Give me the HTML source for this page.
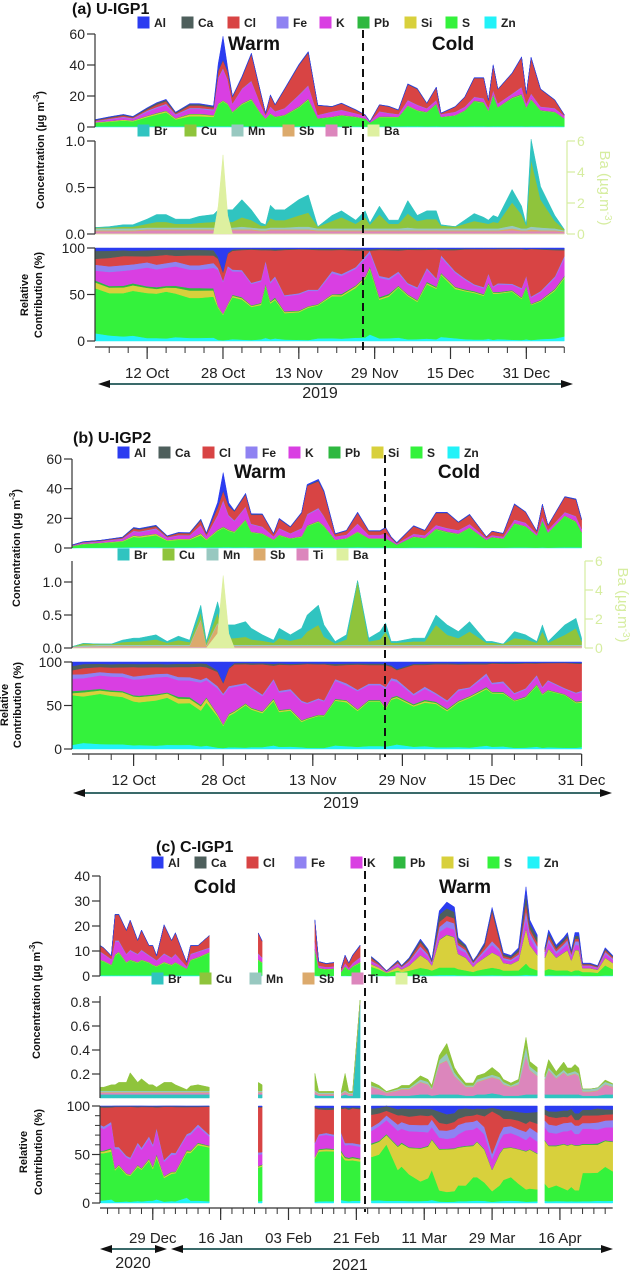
<!DOCTYPE html>
<html><head><meta charset="utf-8"><style>
html,body{margin:0;padding:0;background:#fff;}
svg{display:block;font-family:"Liberation Sans",sans-serif;}
.tl{font-size:14px;fill:#222;}
.lg{font-size:12px;font-weight:bold;fill:#222;}
.ttl{font-size:16px;font-weight:bold;fill:#111;}
.season{font-size:19px;font-weight:bold;fill:#111;}
.yt{font-size:11px;font-weight:bold;fill:#111;}
</style></head><body>
<svg id="chart" width="633" height="1271" viewBox="0 0 633 1271" xmlns="http://www.w3.org/2000/svg">
<rect width="633" height="1271" fill="#fff"/>
<text class="ttl" x="72" y="14">(a) U-IGP1</text>
<text class="ttl" x="73" y="443">(b) U-IGP2</text>
<text class="ttl" x="156" y="852">(c) C-IGP1</text>
<text class="season" x="254" y="50" text-anchor="middle">Warm</text>
<text class="season" x="453" y="50" text-anchor="middle">Cold</text>
<text class="season" x="260" y="478" text-anchor="middle">Warm</text>
<text class="season" x="459" y="478" text-anchor="middle">Cold</text>
<text class="season" x="215" y="893" text-anchor="middle">Cold</text>
<text class="season" x="465" y="893" text-anchor="middle">Warm</text>
<text class="yt" transform="translate(44,150) rotate(-90)" text-anchor="middle">Concentration (µg m<tspan dy="-5" font-size="8">-3</tspan><tspan dy="5">)</tspan></text>
<text class="yt" transform="translate(28,295) rotate(-90)" text-anchor="middle">Relative</text>
<text class="yt" transform="translate(42,295) rotate(-90)" text-anchor="middle">Contribution (%)</text>
<text class="yt" transform="translate(20,548) rotate(-90)" text-anchor="middle">Concentration (µg m<tspan dy="-5" font-size="8">-3</tspan><tspan dy="5">)</tspan></text>
<text class="yt" transform="translate(8,705) rotate(-90)" text-anchor="middle">Relative</text>
<text class="yt" transform="translate(21,705) rotate(-90)" text-anchor="middle">Contribution (%)</text>
<text class="yt" transform="translate(40,1000) rotate(-90)" text-anchor="middle">Concentration (µg m<tspan dy="-5" font-size="8">-3</tspan><tspan dy="5">)</tspan></text>
<text class="yt" transform="translate(27,1152) rotate(-90)" text-anchor="middle">Relative</text>
<text class="yt" transform="translate(42,1152) rotate(-90)" text-anchor="middle">Contribution (%)</text>
<text transform="translate(600,188) rotate(90)" text-anchor="middle" font-size="15" fill="#d6eda0">Ba (µg.m<tspan dy="-5" font-size="10">-3</tspan><tspan dy="5">)</tspan></text>
<text transform="translate(618,605) rotate(90)" text-anchor="middle" font-size="15" fill="#d6eda0">Ba (µg.m<tspan dy="-5" font-size="10">-3</tspan><tspan dy="5">)</tspan></text>
<text x="320" y="398" text-anchor="middle" font-size="16" fill="#222">2019</text>
<text x="341" y="808" text-anchor="middle" font-size="16" fill="#222">2019</text>
<text x="133" y="1268" text-anchor="middle" font-size="16" fill="#222">2020</text>
<text x="350" y="1270" text-anchor="middle" font-size="16" fill="#222">2021</text>
<g id="marks"></g>
</svg>
<script>
// ---------- Panel (a) U-IGP1 : day 0 = 1 Oct 2019 ----------
const aDays=[0,3,6,8,11,13,15,17,20,22,25,26,27,28,29,31,33,35,36,37,38,40,43,45,47,50,52,55,57,58,60,62,64,66,68,70,72,73,76,78,80,82,83,84,85,88,90,91,92,94,97,99];
const aZn=[.4,.4,.4,.4,.4,.5,.5,.4,.5,.5,.5,.5,.5,.5,.4,.5,.5,.4,.3,.4,.4,.4,.5,.5,.4,.4,.4,.4,.3,.25,.4,.4,.4,.5,.5,.4,.5,.4,.4,.4,.5,.5,.4,.5,.5,.5,.5,.4,.5,.5,.5,.4];
const aS=[2.3,3,3.8,3.3,6,7.5,9,4.5,6.5,6.5,6,14,16,14,9,14,17,8,5,8,6,7,12,17,5,6,7,6,5,2.5,6,6,6,13,10,9,14,6,7,10,16,15,10,20,12,18,20,12,17,10,9,5];
const aSi=[.3,.4,.5,.4,.7,.8,.8,.6,1.2,1.2,.9,.5,.5,.5,.3,.5,.5,.3,.1,.3,.2,.3,.4,.5,.1,.2,.2,.2,.1,.05,.2,.2,.1,.3,.3,.2,.3,.1,.2,.2,.3,.3,.2,.4,.2,.3,.4,.2,.3,.2,.2,.1];
const aPb=[.1,.1,.15,.15,.2,.3,.3,.2,.4,.4,.3,.2,.2,.2,.2,.3,.3,.2,.1,.2,.2,.2,.3,.3,.1,.1,.2,.1,.1,.05,.2,.2,.1,.2,.2,.2,.3,.1,.1,.2,.3,.3,.2,.3,.2,.3,.4,.2,.3,.2,.2,.1];
const aK=[.5,1,1.3,1,2.5,3,3.5,2,3,3,3,16,20,15,5,9,11,5,2,4,3,4,7,8,2,3,3,2,1.5,.5,3,2,1.5,3,3,2,2,1.5,2,2,2,2,1.5,2,2,2,4,2,3,2,2,1.5];
const aFe=[.3,.4,.5,.4,.7,.8,.9,.5,.7,.7,.7,.8,.8,.6,.4,.5,.6,.3,.2,.4,.3,.3,.5,.6,.2,.3,.3,.2,.2,.1,.3,.3,.2,.4,.4,.3,.3,.2,.2,.3,.4,.4,.2,.5,.3,.4,.5,.3,.5,.3,.3,.2];
const aCl=[.3,.6,.8,.6,.8,1.5,1.6,.6,1.6,1.6,1.1,4,5,5,4,7,17,7,1,7,4,12,19,21,6,3,4,2,.5,0,4,4,2.5,10,10,3,8,.5,3,6,12,13,4.5,16,9,13,19,6,23,11,5,.5];
const aCa=[.4,.5,.5,.4,.8,1,1,.6,.9,.9,.8,.8,.5,.4,.3,.4,.4,.3,.1,.3,.2,.3,.3,.4,.2,.2,.2,.2,.1,.05,.2,.2,.2,.3,.3,.2,.2,.1,.2,.2,.2,.2,.1,.2,.2,.2,.2,.2,.2,.2,.2,.1];
const aAl=[.15,.2,.2,.2,.3,.3,.3,.2,.3,.3,.3,4,15,2,.3,.3,.4,.2,.1,.2,.2,.2,.3,.4,.1,.1,.1,.1,.1,.05,.1,.1,.1,.2,.2,.1,.2,.1,.1,.1,.2,.2,.1,.3,.1,.2,.3,.2,.3,.2,.2,.1];
const aTi=[.03,.03,.03,.03,.04,.04,.04,.04,.04,.04,.04,.04,.04,.04,.04,.04,.04,.03,.03,.04,.04,.04,.04,.04,.03,.03,.03,.03,.03,.03,.03,.03,.03,.03,.03,.03,.03,.03,.03,.03,.03,.03,.03,.03,.03,.04,.03,.03,.03,.03,.03,.02];
const aSb=[.01,.01,.01,.01,.01,.01,.01,.01,.01,.01,.01,.01,.01,.01,.01,.01,.01,.01,.01,.01,.01,.01,.01,.01,.01,.01,.01,.01,.01,.01,.01,.01,.01,.01,.01,.01,.01,.01,.01,.01,.01,.01,.01,.01,.01,.02,.01,.01,.02,.01,.01,.01];
const aMn=[.02,.02,.02,.02,.02,.02,.02,.02,.02,.02,.02,.02,.02,.02,.02,.03,.02,.02,.02,.02,.02,.02,.03,.03,.02,.02,.02,.02,.02,.02,.02,.02,.02,.03,.02,.02,.02,.02,.02,.02,.02,.02,.02,.02,.02,.03,.02,.02,.03,.03,.02,.01];
const aCu=[.01,.01,.02,.02,.04,.06,.06,.04,.04,.05,.06,.06,.06,.06,.06,.1,.08,.03,.03,.1,.08,.08,.12,.15,.02,.08,.12,.05,.12,.04,.15,.05,.05,.15,.08,.1,.1,.03,.02,.05,.08,.06,.05,.07,.06,.25,.15,.03,.72,.3,.08,.01];
const aBr=[0,.01,.02,.02,.05,.08,.08,.05,.05,.07,.08,.13,.13,.13,.13,.19,.11,.03,.01,.14,.11,.11,.17,.19,0,.06,.07,.04,.07,.02,.09,.04,.04,.14,.06,.09,.09,.01,0,.04,.08,.06,.04,.07,.06,.14,.09,.01,.22,.14,.06,0];
const aBa=[0,0,0,0,0,0,0,0,0,0,0,1.8,5.1,1.2,0,0,0,0,0,0,0,0,0,0,0,0,0,0,0,0,0,0,0,0,0,0,0,0,0,0,0,0,0,0,0,0,0,0,0,0,0,0];
const aTickDays=[11,27,43,59,75,91];
const aTickLabels=["12 Oct","28 Oct","13 Nov","29 Nov","15 Dec","31 Dec"];

// ---------- Panel (b) U-IGP2 : day 0 = 1 Oct 2019 ----------
const bDays=[0,2,5,7,9,11,12,15,17,19,21,23,24,26,27,28,29,31,32,34,36,37,39,41,42,44,45,47,49,51,53,55,56,57,58,61,63,65,67,69,71,74,75,77,79,81,83,84,85,88,90,91];
const bZn=[.1,.3,.3,.35,.4,.6,.6,.6,.4,.5,.5,.6,.4,.5,.6,.6,.5,.6,.5,.5,.4,.5,.4,.5,.6,.6,.5,.4,.4,.6,.4,.4,.4,.3,.2,.4,.4,.5,.5,.4,.4,.3,.3,.3,.4,.4,.3,.4,.3,.5,.5,.4];
const bS=[1.2,2.3,3,3.5,4,7,6.5,8,4.5,5,5,8,5,11,13,11,10,18,10,9,5,8,6,7,14,17,14,5,6,10,6,6,6,4,2,7,6,12,10,9,13,5,7,6,16,14,8,18,10,21,17,10];
const bSi=[.05,.2,.2,.3,.4,.8,.8,.9,.4,.6,.5,1,.5,.6,.5,.5,.4,.5,.3,.3,.2,.3,.2,.3,.4,.4,.3,.1,.2,.3,.1,.1,.2,.1,.05,.2,.2,.3,.3,.2,.3,.1,.1,.1,.2,.2,.1,.2,.1,.2,.3,.2];
const bPb=[.05,.1,.1,.1,.1,.2,.2,.2,.1,.2,.2,.3,.1,.3,.3,.3,.2,.3,.2,.2,.1,.2,.1,.2,.3,.3,.3,.1,.1,.2,.1,.1,.1,.1,.05,.2,.2,.3,.3,.2,.2,.1,.1,.1,.2,.2,.1,.2,.1,.2,.3,.2];
const bK=[.3,.6,.8,1,1.2,2.5,2.5,3,1.5,2,2,5,2,9,17,9,7,8,5,4,2,4,3,5,7,8,6,2,2,5,2,2,3,1.5,.6,1.5,1.5,2,2,2,2,1,1,1,2,2,1,2,1.5,2,3,2];
const bFe=[.1,.2,.2,.25,.3,.5,.5,.6,.3,.4,.4,.6,.3,.8,1,.7,.5,.6,.4,.4,.2,.4,.3,.4,.6,.7,.5,.2,.3,.4,.2,.2,.3,.2,.1,.3,.3,.4,.4,.3,.3,.2,.2,.2,.4,.3,.2,.4,.2,.4,.4,.3];
const bCl=[.1,.3,.3,.4,.5,1.5,1.3,1.2,.6,1.2,1.2,3,1.2,5,6,6,6,8,6,8,1.5,6,4,10,19,18,16,1.5,2.5,7,2.5,2.5,3.5,1,.4,5,3,8,10,5,6,.8,2.5,2,10,7,1.5,8,3,10,11,6];
const bCa=[.1,.2,.2,.25,.3,.5,.5,.6,.3,.4,.4,.7,.4,.5,.5,.4,.4,.5,.4,.3,.2,.3,.2,.3,.4,.5,.4,.2,.2,.3,.2,.2,.2,.1,.05,.2,.2,.3,.3,.2,.3,.1,.1,.1,.3,.2,.1,.2,.1,.2,.3,.2];
const bAl=[.1,.1,.1,.15,.15,.3,.3,.3,.2,.2,.2,.3,.2,3,12,2,.3,.4,.3,.3,.2,.3,.3,.4,.6,.8,.6,.2,.2,.4,.2,.2,.3,.3,.3,.3,.2,.3,.3,.3,.3,.1,.1,.1,.3,.2,.1,.2,.1,.2,.3,.2];
const bTi=[.02,.02,.02,.02,.02,.02,.02,.02,.02,.02,.02,.02,.02,.02,.02,.02,.02,.02,.02,.02,.02,.02,.02,.02,.02,.02,.02,.02,.02,.02,.02,.02,.02,.02,.02,.02,.02,.02,.02,.02,.02,.02,.02,.02,.02,.02,.02,.02,.02,.02,.02,.02];
const bSb=[0,0,.01,.01,.01,.01,.01,.01,.01,.01,.01,.4,.01,.35,.01,.01,.01,.01,.01,.01,.01,.01,.01,.01,.01,.01,.01,.01,.01,.01,.01,.01,.01,.01,.01,.01,.01,.01,.01,.01,.01,.01,.01,.01,.01,.01,.01,.01,.01,.01,.01,.01];
const bMn=[0,.02,.02,.02,.02,.02,.02,.02,.02,.02,.02,.02,.02,.02,.02,.02,.02,.02,.02,.02,.02,.02,.02,.02,.02,.02,.02,.02,.02,.02,.02,.02,.02,.02,.02,.02,.02,.02,.02,.02,.02,.02,.02,.02,.02,.02,.02,.02,.02,.02,.02,.02];
const bCu=[0,.03,.01,.01,.04,.05,.05,.08,.03,.07,.04,.1,.03,.15,.1,.1,.1,.12,.08,.06,.03,.1,.06,.1,.2,.3,.12,.02,.08,1.1,.05,.08,.2,.03,.03,.05,.05,.3,.15,.1,.2,.03,.03,.01,.1,.08,.03,.2,.03,.15,.25,.05];
const bBr=[0,0,0,0,.03,.05,.05,.07,.02,.06,.03,.11,.02,.16,.2,.2,.2,.23,.17,.09,.04,.15,.09,.15,.25,.3,.18,.03,.07,.15,.05,.12,.13,.02,.02,.05,.05,.15,.15,.1,.15,.02,.02,0,.1,.07,.02,.1,.02,.15,.15,.05];
const bBa=[0,0,0,0,0,0,0,0,0,0,0,0,0,1,5,1,0,0,0,0,0,0,0,0,0,0,0,0,0,0,0,0,0,0,0,0,0,0,0,0,0,0,0,0,0,0,0,0,0,0,0,0];
const bTickDays=[11,27,43,59,75,91];
const bTickLabels=["12 Oct","28 Oct","13 Nov","29 Nov","15 Dec","31 Dec"];

// ---------- Panel (c) C-IGP1 : day 0 = 15 Dec 2020 ----------
const cDays=[0,1,3,4,5,7,8,10,11,13,14,15,17,19,20,23,24,26,29, 42,43, 57,58,60,62, 64,65,66,67,69, 72,74,76,79,80,82,85,87,88,90,92,94,95,97,99,100,102,104,106,107,109,111,113,114,116, 118,119,121,123,124,125,126,127,128,130,132,134,136];
const cSeg=[1,1,1,1,1,1,1,1,1,1,1,1,1,1,1,1,1,1,1, 2,2, 3,3,3,3, 4,4,4,4,4, 5,5,5,5,5,5,5,5,5,5,5,5,5,5,5,5,5,5,5,5,5,5,5,5,5, 6,6,6,6,6,6,6,6,6,6,6,6,6];
const cZn=[.3,.3,.3,.3,.3,.3,.3,.3,.3,.3,.3,.3,.3,.3,.3,.3,.3,.3,.3, .3,.3, .3,.1,.1,.1, .1,.2,.1,.2,.3, .2,.15,.05,.15,.1,.15,.3,.25,.2,.4,.4,.4,.3,.25,.15,.2,.3,.35,.3,.2,.2,.25,.5,.35,.3, .25,.35,.25,.3,.3,.2,.3,.3,.1,.1,.1,.25,.2];
const cS=[6,5.5,4,8,9,5,6,5,6,5,4,3.5,5,4,5,2.5,6,7,9, 6,5, 10,3,2.6,2.8, 1.5,3.5,2.2,3.5,5, 3.5,2.5,1.2,2,1.5,2,3,2.5,2,3,3,3,2.5,2,1.5,2,2.5,3,2.5,2,2,2,4.5,3,2, 2,2.5,2,2,2,1.5,2,2,1.5,1.5,1.2,4,2.5];
const cSi=[.2,.2,.2,.3,.3,.2,.2,.2,.2,.2,.2,.2,.3,.2,.2,.1,.2,.2,.2, .2,.2, .3,.1,.1,.1, .1,.2,.1,.2,.3, 1,.7,.2,1.5,1,2,5,3.5,2,11,13,12,6,5,2,3,4.5,6,5,3,2.5,4,14,9,6, 5,8,5,7,8,4.5,8,8,1.5,1.5,1.2,3,2.5];
const cPb=[.1,.1,.1,.15,.15,.1,.1,.1,.1,.1,.1,.1,.1,.1,.1,.05,.1,.1,.1, .1,.1, .1,.05,.05,.05, .05,.1,.05,.1,.1, .1,.05,.02,.05,.05,.05,.1,.1,.05,.2,.2,.2,.1,.1,.05,.05,.1,.1,.1,.05,.05,.05,.2,.1,.1, .1,.1,.1,.1,.1,.05,.1,.1,.05,.05,.05,.1,.05];
const cK=[3,2.5,2,5,4,3,3.5,3,3.5,2.5,2.5,2,3,2.5,3,.8,2,2,1.5, 2,1.5, 3,.8,.7,.7, .5,1,.7,1,1.5, 1,.8,.3,1,.6,1.2,2.5,1.5,.8,3,3,3,2,2,1,1.2,2,3,2,1.3,1.2,1.5,4,3,2, 1.5,2.5,1.5,2,2.5,1.5,2,2,.8,.8,.6,1.5,1.2];
const cFe=[.3,.3,.2,.5,.5,.3,.4,.3,.4,.3,.3,.2,.4,.3,.3,.1,.3,.3,.3, .4,.3, .3,.1,.1,.1, .1,.2,.1,.2,.3, .3,.2,.1,.4,.3,.5,1,.8,.5,2,2.5,2.5,1.5,1,.5,.6,1,1.5,1,.7,.6,.8,3,2,1.5, .8,1.5,1,1.3,1.5,.8,1.5,1.5,.3,.3,.3,.8,.6];
const cCl=[2.2,2.2,1.2,10.2,10.2,9.2,11.7,5.2,7.7,3.7,4.7,1.7,11.2,6.7,8.2,1.5,3.2,2.2,4.7, 8,6.5, 8,1.5,1.2,1.4, .8,3,1.8,3,4.5, 1,.5,.1,.6,.3,.6,1.5,1,.3,2,2,2,1,.8,.4,.5,1.5,12,3,.8,.6,1,3,1.5,1.5, .7,1.5,1,1,1,.8,1,1,.4,.4,.3,.7,.5];
const cCa=[.15,.15,.1,.2,.2,.15,.15,.15,.15,.1,.1,.1,.15,.1,.15,.05,.1,.1,.1, .15,.1, .3,.1,.1,.1, .05,.1,.1,.1,.2, .5,.3,.1,.4,.3,.6,1,.8,.4,3,3,2.5,1.5,1,.4,.5,1,1,1,.8,.7,1,4,2,2, .6,1,.8,1,1.2,.6,1.2,1.2,.3,.3,.3,.6,.4];
const cAl=[.02,.02,.02,.03,.03,.02,.02,.02,.02,.02,.02,.02,.02,.02,.02,.01,.02,.02,.02, .1,.1, .2,.1,.1,.1, .05,.1,.1,.1,.2, .2,.1,0,.2,.1,.2,.4,.3,.2,1.5,2.5,2,.5,.3,.2,.2,.4,.5,.5,.4,.4,.7,2.5,1.5,1, .4,1,.7,.7,.8,.3,1.3,1.3,.2,.2,.1,.4,.3];
const cBr=[.03,.03,.03,.03,.03,.03,.03,.03,.03,.03,.03,.03,.03,.03,.03,.03,.03,.03,.03, .03,.03, .03,.02,.02,.02, .02,.03,.02,.02,.78, .03,.03,.02,.02,.02,.02,.03,.03,.02,.03,.03,.03,.03,.02,.02,.03,.03,.04,.03,.02,.02,.02,.03,.03,.03, .03,.03,.03,.03,.03,.03,.03,.03,.02,.02,.02,.03,.03];
const cTi=[.015,.015,.015,.015,.015,.015,.015,.015,.015,.015,.015,.015,.015,.015,.015,.015,.015,.015,.015, .015,.015, .02,.01,.01,.01, .01,.02,.01,.01,.03, .06,.04,.02,.04,.05,.05,.1,.08,.05,.25,.28,.15,.12,.07,.07,.1,.12,.13,.12,.09,.07,.09,.32,.2,.15, .12,.2,.13,.18,.15,.16,.17,.15,.03,.03,.04,.08,.06];
const cSb=[.005,.005,.005,.005,.005,.005,.005,.005,.005,.005,.005,.005,.005,.005,.005,.005,.005,.005,.005, .005,.005, .005,.005,.005,.005, .005,.005,.005,.005,.005, .005,.005,.005,.005,.005,.005,.005,.005,.005,.005,.005,.005,.005,.005,.005,.005,.005,.005,.005,.005,.005,.005,.005,.005,.005, .005,.005,.005,.005,.005,.005,.005,.005,.005,.005,.005,.005,.005];
const cMn=[.01,.01,.01,.01,.01,.01,.01,.01,.01,.01,.01,.01,.01,.01,.01,.01,.01,.01,.01, .01,.01, .01,.01,.01,.01, .01,.01,.01,.01,.01, .01,.01,.005,.01,.01,.01,.02,.02,.01,.03,.06,.03,.02,.01,.01,.02,.02,.02,.02,.02,.01,.02,.08,.03,.03, .02,.02,.02,.02,.02,.02,.02,.02,.02,.02,.02,.02,.02];
const cCu=[.03,.03,.05,.05,.07,.07,.15,.07,.1,.05,.05,.03,.07,.07,.05,.01,.04,.05,.03, .07,.05, .14,.01,.01,.01, .01,.14,.01,.01,.03, .03,.02,.005,.01,.02,.02,.03,.02,.02,.04,.08,.04,.03,.02,.02,.03,.03,.06,.03,.02,.02,.02,.07,.04,.04, .025,.065,.035,.065,.045,.035,.055,.045,0,0,0,.015,.005];
const cTickDays=[14,32,50,68,86,104,122];
const cTickLabels=["29 Dec","16 Jan","03 Feb","21 Feb","11 Mar","29 Mar","16 Apr"];

// ---------- legend / colours ----------
const majorNames=["Al","Ca","Cl","Fe","K","Pb","Si","S","Zn"];
const majorColors={Al:"#2b3cf0",Ca:"#4e5f5c",Cl:"#d84444",Fe:"#8f82f2",K:"#d93fe2",Pb:"#2eb840",Si:"#d8d03c",S:"#34f23c",Zn:"#22f2f8"};
const traceNames=["Br","Cu","Mn","Sb","Ti","Ba"];
const traceColors={Br:"#30c4c0",Cu:"#8fc43c",Mn:"#98c8c0",Sb:"#dcaa6c",Ti:"#dc86bc",Ba:"#def0a0"};

const NS="http://www.w3.org/2000/svg";
const root=document.getElementById("marks");
function mk(tag,parent,o){const e=document.createElementNS(NS,tag);for(const k in o)e.setAttribute(k,o[k]);parent.appendChild(e);return e;}

const panels=[
 {key:"a",x0:95,dx:4.74,x1:566,days:aDays,seg:null,
  top:{y0:127,y1:34,max:60,ticks:[0,20,40,60],lab:["0","20","40","60"]},
  mid:{y0:234,y1:141,max:1.0,axTop:141,ticks:[0,0.5,1.0],lab:["0.0","0.5","1.0"]},
  right:{max:6,ticks:[0,2,4,6],lab:["0","2","4","6"]},
  bot:{y0:341,y1:248,max:100,ticks:[0,50,100],lab:["0","50","100"]},
  axisY:347,labY:378,minorStart:3,minorStep:4,lastDay:99,
  major:[aZn,aS,aSi,aPb,aK,aFe,aCl,aCa,aAl],
  trace:[aTi,aSb,aMn,aCu,aBr],traceKeys:["Ti","Sb","Mn","Cu","Br"],ba:aBa,
  tickDays:aTickDays,tickLabels:aTickLabels,dash:{x:363,y0:30,y1:352},
  leg1:{y:22,xs:[138,182,228,277,320,358,405,446,485]},leg2:{y:130,xs:[138,185,232,283,326,368]},
  arrows:[{x0:98,x1:573,y:384}]},
 {key:"b",x0:72,dx:5.6,x1:584,days:bDays,seg:null,
  top:{y0:548,y1:459,max:60,ticks:[0,20,40,60],lab:["0","20","40","60"]},
  mid:{y0:648,y1:582,max:1.0,axTop:561,ticks:[0,0.5,1.0],lab:["0.0","0.5","1.0"]},
  right:{max:6,ticks:[0,2,4,6],lab:["0","2","4","6"]},
  bot:{y0:749,y1:662,max:100,ticks:[0,50,100],lab:["0","50","100"]},
  axisY:754,labY:785,minorStart:3,minorStep:4,lastDay:91,
  major:[bZn,bS,bSi,bPb,bK,bFe,bCl,bCa,bAl],
  trace:[bTi,bSb,bMn,bCu,bBr],traceKeys:["Ti","Sb","Mn","Cu","Br"],ba:bBa,
  tickDays:bTickDays,tickLabels:bTickLabels,dash:{x:385,y0:455,y1:757},
  leg1:{y:452,xs:[118,159,203,246,289,329,372,411,448]},leg2:{y:554,xs:[118,163,207,254,297,337]},
  arrows:[{x0:73,x1:612,y:793}]},
 {key:"c",x0:100,dx:3.77,x1:613,days:cDays,seg:cSeg,
  top:{y0:976,y1:876,max:40,ticks:[0,10,20,30,40],lab:["0","10","20","30","40"]},
  mid:{y0:1098,y1:1002,max:0.8,axTop:996,ticks:[0.2,0.4,0.6,0.8],lab:["0.2","0.4","0.6","0.8"]},
  right:null,
  bot:{y0:1203,y1:1106,max:100,ticks:[0,50,100],lab:["0","50","100"],minor:10},
  axisY:1208,labY:1243,minorStart:2,minorStep:3,lastDay:136,
  major:[cZn,cS,cSi,cPb,cK,cFe,cCl,cCa,cAl],
  trace:[cBr,cTi,cSb,cMn,cCu],traceKeys:["Br","Ti","Sb","Mn","Cu"],ba:null,
  tickDays:cTickDays,tickLabels:cTickLabels,dash:{x:365,y0:858,y1:1212},
  leg1:{y:862,xs:[152,195,247,295,351,394,442,488,528]},leg2:{y:978,xs:[152,200,250,303,352,396]},
  arrows:[{x0:100,x1:167,y:1249},{x0:171,x1:613,y:1249}]}
];
const majorOrder=["Zn","S","Si","Pb","K","Fe","Cl","Ca","Al"];

function runs(p){const n=p.days.length,out=[];let s=0;for(let i=1;i<=n;i++){if(i===n||(p.seg&&p.seg[i]!==p.seg[i-1])){out.push([s,i-1]);s=i;}}return out;}
function yv(s,v){return s.y0-(v/s.max)*(s.y0-s.y1);}
function xd(p,d){return p.x0+d*p.dx;}
function stack(g,p,layers,colors,scale,name,names){
 const n=p.days.length,cum=new Array(n).fill(0);
 const rr=runs(p);
 layers.forEach((L,li)=>{
  const lo=cum.slice();for(let i=0;i<n;i++)cum[i]+=L[i];
  rr.forEach(([a,b])=>{
   let d="";
   const ea=(a===b)?1.2:0;
   for(let i=a;i<=b;i++){const x=xd(p,p.days[i])+(i===b?ea:0)-(i===a?ea:0);d+=(i===a?"M":"L")+x.toFixed(1)+","+yv(scale,Math.min(cum[i],scale.max*1.02)).toFixed(1);}
   for(let i=b;i>=a;i--){const x=xd(p,p.days[i])+(i===b?ea:0)-(i===a?ea:0);d+="L"+x.toFixed(1)+","+yv(scale,Math.min(lo[i],scale.max*1.02)).toFixed(1);}
   const e=mk("path",g,{d:d+"Z",fill:colors[li],stroke:colors[li],"stroke-width":"0.5"});
   
   
  });
 });
}
function yAxis(g,p,s,top,name,x,side){
 const dir=side==="r"?1:-1;
 const ax=mk("line",g,{x1:x,x2:x,y1:s.y0,y2:top,stroke:side==="r"?"#d6eda0":"#333","stroke-width":"1.2"});
 
 
 if(s.minor){for(let v=0;v<=s.max;v+=s.minor){const t=mk("line",g,{x1:x,x2:x+dir*5,y1:yv(s,v),y2:yv(s,v),stroke:"#333","stroke-width":"1"});
  
  }}
 s.ticks.forEach((v,i)=>{
  const y=yv(s,v);
  const t=mk("line",g,{x1:x,x2:x+dir*8,y1:y,y2:y,stroke:side==="r"?"#d6eda0":"#333","stroke-width":"1.2"});
  
  
  const tx=mk("text",g,{x:x+dir*10,y:y+5,"text-anchor":side==="r"?"start":"end",class:"tl"});
  if(side==="r")tx.setAttribute("fill","#d6eda0"),tx.setAttribute("style","fill:#d6eda0");
  tx.textContent=s.lab[i];
  
  
 });
}
function legend(g,p,cfg,names,colors,nm){
 names.forEach((k,i)=>{
  const r=mk("rect",g,{x:cfg.xs[i],y:cfg.y-5,width:11,height:11,fill:colors[k],stroke:colors[k]});
  
  
  const t=mk("text",g,{x:cfg.xs[i]+16,y:cfg.y+5,class:"lg"});
  t.textContent=k;
  
  
 });
}
function arrowH(g,a,nm){
 const l=mk("line",g,{x1:a.x0+8,x2:a.x1-8,y1:a.y,y2:a.y,stroke:"#3a6a6a","stroke-width":"2"});
 
 
 const h1=mk("path",g,{d:`M${a.x0},${a.y}L${a.x0+12},${a.y-4}L${a.x0+12},${a.y+4}Z`,fill:"#111"});
 
 
 const h2=mk("path",g,{d:`M${a.x1},${a.y}L${a.x1-12},${a.y-4}L${a.x1-12},${a.y+4}Z`,fill:"#111"});
 
 
}

panels.forEach(p=>{
 const g=mk("g",root,{});
 
 
 const nm='panel-'+p.key;
 // absolute stack
 stack(g,p,p.major,majorOrder.map(k=>majorColors[k]),p.top,nm+'-concentration',majorOrder.map(k=>k.toLowerCase()));
 // trace stack
 stack(g,p,p.trace,p.traceKeys.map(k=>traceColors[k]),p.mid,nm+'-trace',p.traceKeys.map(k=>k.toLowerCase()));
 if(p.ba){const rs={y0:p.mid.y0,y1:p.mid.y0-(p.mid.y0-p.mid.y1)*(p.right.max/p.mid.max)/ (p.right.max/p.mid.max) ,max:p.mid.max};
  const bsc={y0:p.mid.y0,y1:p.mid.axTop,max:p.right.max};
  stack(g,p,[p.ba],[traceColors.Ba],bsc,nm+'-barium',["ba"]);}
 // relative stack
 const n=p.days.length,tot=new Array(n).fill(0);
 p.major.forEach(L=>{for(let i=0;i<n;i++)tot[i]+=L[i];});
 const rel=p.major.map(L=>L.map((v,i)=>tot[i]>0?v/tot[i]*100:0));
 stack(g,p,rel,majorOrder.map(k=>majorColors[k]),p.bot,nm+'-relative',majorOrder.map(k=>k.toLowerCase()));
 // axes
 yAxis(g,p,p.top,p.top.y1,nm+'-concentration-y',p.x0,"l");
 yAxis(g,p,p.mid,p.mid.axTop,nm+'-trace-y',p.x0,"l");
 if(p.right){const rs={y0:p.mid.y0,y1:p.mid.axTop,max:p.right.max,ticks:p.right.ticks,lab:p.right.lab};yAxis(g,p,rs,p.mid.axTop,nm+'-ba-y',p.x1+1,"r");}
 yAxis(g,p,p.bot,p.bot.y1,nm+'-relative-y',p.x0,"l");
 // x axis
 const xl=mk("line",g,{x1:p.x0,x2:xd(p,p.lastDay),y1:p.axisY,y2:p.axisY,stroke:"#333","stroke-width":"1.2"});
 
 
 for(let d=p.minorStart;d<=p.lastDay;d+=p.minorStep){
  const t=mk("line",g,{x1:xd(p,d),x2:xd(p,d),y1:p.axisY,y2:p.axisY+6,stroke:"#333","stroke-width":"1"});
  
  
 }
 p.tickDays.forEach((d,i)=>{
  const t=mk("line",g,{x1:xd(p,d),x2:xd(p,d),y1:p.axisY,y2:p.axisY+12,stroke:"#333","stroke-width":"1.2"});
  
  
  const tx=mk("text",g,{x:xd(p,d),y:p.labY,"text-anchor":"middle",class:"tl",style:"font-size:15px"});
  tx.textContent=p.tickLabels[i];
  
  
 });
 // dashed season divider
 const dl=mk("line",g,{x1:p.dash.x,x2:p.dash.x,y1:p.dash.y0,y2:p.dash.y1,stroke:"#111","stroke-width":"2","stroke-dasharray":"8,5"});
 
 
 legend(g,p,p.leg1,majorNames,majorColors,nm+'-major');
 legend(g,p,p.leg2,traceNames,traceColors,nm+'-trace');
 p.arrows.forEach(a=>arrowH(g,a,nm));
});
</script>
</body></html>
